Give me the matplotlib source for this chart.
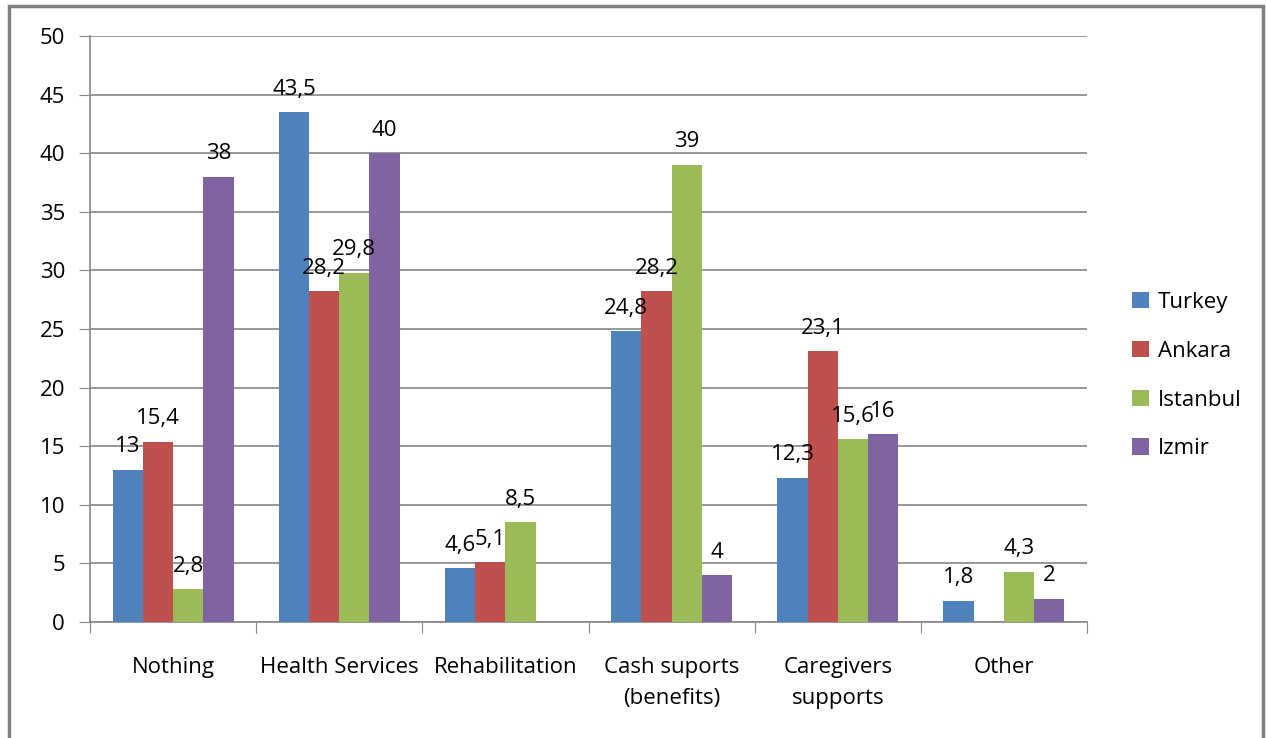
import numpy as np
import matplotlib.pyplot as plt
from matplotlib.patches import Rectangle

plt.rcParams["font.family"] = ["Open Sans", "DejaVu Sans"]

categories = ["Nothing", "Health Services", "Rehabilitation",
              "Cash suports\n(benefits)", "Caregivers\nsupports", "Other"]
series = ["Turkey", "Ankara", "Istanbul", "Izmir"]
turkey = [13, 43.5, 4.6, 24.8, 12.3, 1.8]
ankara = [15.4, 28.2, 5.1, 28.2, 23.1, None]
istanbul = [2.8, 29.8, 8.5, 39, 15.6, 4.3]
izmir = [38, 40, None, 4, 16, 2]
y_ticks = [0, 5, 10, 15, 20, 25, 30, 35, 40, 45, 50]

COLORS = ["#4F81BD", "#C0504D", "#9BBB59", "#8064A2"]
GRID = "#868686"
FS = 16


def fmt(v):
    s = f"{v:g}"
    return s.replace(".", ",")


fig = plt.figure(figsize=(12.66, 7.38), dpi=100)
ax = fig.add_axes([90 / 1266, 1 - 622 / 738, 997 / 1266, 586 / 738])

x = np.arange(len(categories))
width = 0.182
for i, (name, vals) in enumerate(zip(series, [turkey, ankara, istanbul, izmir])):
    pos = x + (i - 1.5) * width
    for p, v in zip(pos, vals):
        if v is None:
            continue
        ax.bar(p, v, width=width, color=COLORS[i], zorder=3)
        ax.annotate(fmt(v), (p, v), xytext=(0, 9), textcoords="offset points",
                    ha="center", va="bottom", fontsize=FS, color="black", zorder=4)
    ax.bar(0, 0, width=0, color=COLORS[i], label=name)

ax.set_xlim(-0.5, len(categories) - 0.5)
ax.set_ylim(0, 50)
ax.set_yticks(y_ticks)
ax.tick_params(axis="y", labelsize=FS, length=8, color=GRID, pad=10)
ax.yaxis.grid(True, color=GRID, lw=1.2, zorder=0)

ax.set_xticks(np.arange(len(categories) + 1) - 0.5)
ax.set_xticklabels([])
ax.tick_params(axis="x", length=8, color=GRID)
for xi, lab in zip(x, categories):
    ax.text(xi, -2.95, lab, ha="center", va="top", fontsize=FS,
            linespacing=1.65)

for s in ["top", "right"]:
    ax.spines[s].set_visible(False)
for s in ["left", "bottom"]:
    ax.spines[s].set_color(GRID)
    ax.spines[s].set_linewidth(1.2)

leg = fig.legend(loc="upper left", bbox_to_anchor=(1112 / 1266, 1 - 272 / 738),
                 frameon=False, fontsize=FS, handlelength=0.75, handleheight=0.75,
                 handletextpad=0.4, labelspacing=1.25)

fig.patches.append(Rectangle((9 / 1266, -0.01), 1254 / 1266, 1 - 6 / 738 + 0.01,
                             transform=fig.transFigure, fill=False,
                             edgecolor="#808080", lw=2.5))

fig.savefig("out.png", dpi=100)
